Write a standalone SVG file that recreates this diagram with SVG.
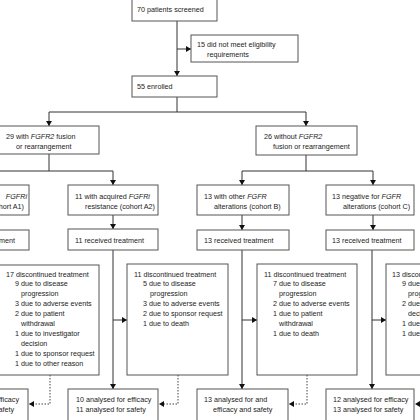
<svg xmlns="http://www.w3.org/2000/svg" width="420" height="420" viewBox="0 0 420 420">
<style>
.box{fill:#fff;stroke:#555;stroke-width:1}
.ln{fill:none;stroke:#333;stroke-width:1}
.dot{fill:none;stroke:#444;stroke-width:1;stroke-dasharray:1.5 1.5}
text{font-family:"Liberation Sans",Arial,sans-serif;font-size:7.2px;fill:#222}
.i{font-style:italic}
.e{text-anchor:end}
</style>
<defs>
<marker id="ah" markerUnits="userSpaceOnUse" markerWidth="6" markerHeight="6" refX="5" refY="3" orient="auto">
<path d="M0,0 L5,3 L0,6 Z" fill="#111"/>
</marker>
</defs>
<rect width="420" height="420" fill="#fff"/>
<g id="connectors">
<path class="ln" d="M177,21 V76" marker-end="url(#ah)"/>
<path class="ln" d="M177,49 H191" marker-end="url(#ah)"/>
<path class="ln" d="M177,97 V112 H49 V126" marker-end="url(#ah)"/>
<path class="ln" d="M177,112 H306 V126" marker-end="url(#ah)"/>
<path class="ln" d="M49,154 V171 H-10"/>
<path class="ln" d="M49,171 H113 V185" marker-end="url(#ah)"/>
<path class="ln" d="M306,155 V171 H242 V185" marker-end="url(#ah)"/>
<path class="ln" d="M306,171 H373 V185" marker-end="url(#ah)"/>
<path class="ln" d="M113,215 V229" marker-end="url(#ah)"/>
<path class="ln" d="M242,215 V230" marker-end="url(#ah)"/>
<path class="ln" d="M373,215 V230" marker-end="url(#ah)"/>
<path class="ln" d="M113,250 V389" marker-end="url(#ah)"/>
<path class="ln" d="M113,320 H127" marker-end="url(#ah)"/>
<path class="ln" d="M242,250 V389" marker-end="url(#ah)"/>
<path class="ln" d="M242,320 H257" marker-end="url(#ah)"/>
<path class="ln" d="M372,250 V389" marker-end="url(#ah)"/>
<path class="ln" d="M372,320 H386" marker-end="url(#ah)"/>
<path class="dot" d="M50,375 V404 H29" marker-end="url(#ah)"/>
<path class="dot" d="M178,375 V404 H159" marker-end="url(#ah)"/>
<path class="dot" d="M307,375 V404 H289" marker-end="url(#ah)"/>
<path class="dot" d="M430,404 H415" marker-end="url(#ah)"/>
</g>
<g id="n-screened"><rect class="box" x="132" y="-3" width="85" height="24"/><text x="137" y="12">70 patients screened</text></g>
<g id="n-excluded"><rect class="box" x="191" y="35" width="107" height="27"/><text x="197" y="47">15 did not meet eligibility</text><text x="207" y="56.5">requirements</text></g>
<g id="n-enrolled"><rect class="box" x="132" y="76" width="85" height="21"/><text x="137" y="89">55 enrolled</text></g>
<g id="n-fgfr2"><rect class="box" x="-1" y="126" width="100" height="28"/><text x="6" y="139">29 with <tspan class="i">FGFR2</tspan> fusion</text><text x="16" y="149">or rearrangement</text></g>
<g id="n-nofgfr2"><rect class="box" x="256" y="126" width="101" height="29"/><text x="264" y="139">26 without <tspan class="i">FGFR2</tspan></text><text x="273" y="149">fusion or rearrangement</text></g>
<g id="n-a1"><rect class="box" x="-10" y="185" width="39" height="30"/><text class="e i" x="27" y="199">FGFRi</text><text class="e" x="24" y="209">(cohort A1)</text></g>
<g id="n-a2"><rect class="box" x="68" y="185" width="90" height="30"/><text x="75" y="199">11 with acquired <tspan class="i">FGFRi</tspan></text><text x="85" y="209">resistance (cohort A2)</text></g>
<g id="n-b"><rect class="box" x="197" y="185" width="92" height="30"/><text x="204" y="199">13 with other <tspan class="i">FGFR</tspan></text><text x="214" y="209">alterations (cohort B)</text></g>
<g id="n-c"><rect class="box" x="326" y="185" width="88" height="30"/><text x="332" y="199">13 negative for <tspan class="i">FGFR</tspan></text><text x="343" y="209">alterations (cohort C)</text></g>
<g id="n-a1-treat"><rect class="box" x="-10" y="230" width="39" height="20"/><text class="e" x="15" y="242.5">treatment</text></g>
<g id="n-a2-treat"><rect class="box" x="68" y="229" width="90" height="21"/><text x="75" y="242.5">11 received treatment</text></g>
<g id="n-b-treat"><rect class="box" x="197" y="230" width="92" height="20"/><text x="204" y="242.5">13 received treatment</text></g>
<g id="n-c-treat"><rect class="box" x="326" y="230" width="88" height="20"/><text x="332" y="242.5">13 received treatment</text></g>
<g id="n-a1-disc"><rect class="box" x="-10" y="265" width="109" height="110"/>
<text x="6" y="276.5">17 discontinued treatment</text>
<text x="15" y="286.4">9 due to disease</text>
<text x="21" y="296.3">progression</text>
<text x="15" y="306.2">3 due to adverse events</text>
<text x="15" y="316.1">2 due to patient</text>
<text x="21" y="326">withdrawal</text>
<text x="15" y="335.9">1 due to investigator</text>
<text x="21" y="345.8">decision</text>
<text x="15" y="355.7">1 due to sponsor request</text>
<text x="15" y="365.6">1 due to other reason</text></g>
<g id="n-a2-disc"><rect class="box" x="127" y="264" width="101" height="111"/>
<text x="134" y="276.5">11 discontinued treatment</text>
<text x="143" y="286.4">5 due to disease</text>
<text x="150" y="296.3">progression</text>
<text x="143" y="306.2">3 due to adverse events</text>
<text x="143" y="316.1">2 due to sponsor request</text>
<text x="143" y="326">1 due to death</text></g>
<g id="n-b-disc"><rect class="box" x="257" y="264" width="100" height="111"/>
<text x="264" y="276.5">11 discontinued treatment</text>
<text x="273" y="286.4">7 due to disease</text>
<text x="279" y="296.3">progression</text>
<text x="273" y="306.2">2 due to adverse events</text>
<text x="273" y="316.1">1 due to patient</text>
<text x="279" y="326">withdrawal</text>
<text x="273" y="335.9">1 due to death</text></g>
<g id="n-c-disc"><rect class="box" x="386" y="264" width="60" height="111"/>
<text x="392" y="276.5">13 discontinued treatment</text>
<text x="402" y="286.4">9 due to disease</text>
<text x="408" y="296.3">progression</text>
<text x="402" y="306.2">2 due to investigator</text>
<text x="408" y="316.1">decision</text>
<text x="402" y="326">1 due to</text>
<text x="402" y="335.9">1 due to</text></g>
<g id="n-a1-anal"><rect class="box" x="-10" y="389" width="38" height="36"/><text class="e" x="19" y="402">efficacy</text><text class="e" x="14" y="412">safety</text></g>
<g id="n-a2-anal"><rect class="box" x="68" y="389" width="90" height="36"/><text x="76" y="402">10 analysed for efficacy</text><text x="76" y="412">11 analysed for safety</text></g>
<g id="n-b-anal"><rect class="box" x="197" y="389" width="91" height="36"/><text x="204" y="402">13 analysed for and</text><text x="213" y="412">efficacy and safety</text></g>
<g id="n-c-anal"><rect class="box" x="326" y="389" width="88" height="36"/><text x="333" y="402">12 analysed for efficacy</text><text x="333" y="412">13 analysed for safety</text></g>
</svg>
